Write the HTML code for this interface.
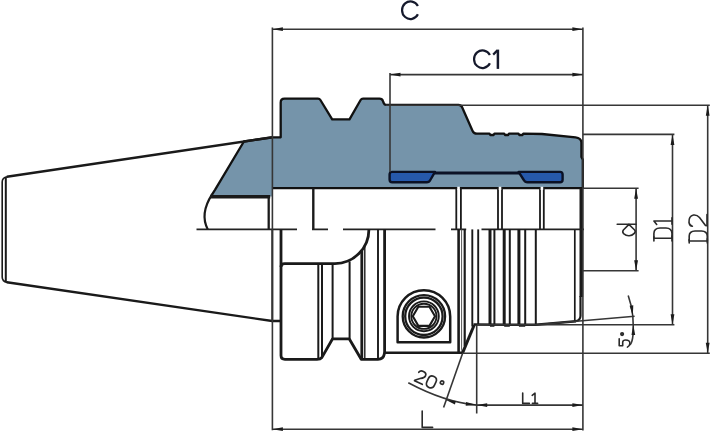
<!DOCTYPE html>
<html><head><meta charset="utf-8">
<style>
html,body{margin:0;padding:0;background:#fff;}
body{width:711px;height:432px;overflow:hidden;font-family:"Liberation Sans",sans-serif;}
svg{display:block}
</style></head><body>
<svg width="711" height="432" viewBox="0 0 711 432">
<rect width="711" height="432" fill="#fff"/>
<g fill="none" stroke="#1a1a1a" stroke-linecap="butt" stroke-linejoin="round">

<!-- ===== gray sectioned body ===== -->
<path fill="#7594aa" stroke="none" d="M243.9,141.5 L272.3,137.3 L280.7,137.3 L280.7,102.5 Q280.7,98.7 284.5,98.7
L318,98.7 Q319.6,98.7 320.4,100 L332.2,119.4 L349.5,119.4 L360.6,100 Q361.4,98.7 363,98.7
L379.5,98.7 Q382.2,98.7 383,101.2 L383.8,103.2 Q384.4,104.8 386.2,104.8
L458.5,104.8 Q461,104.8 462,107 L472.6,131 Q473.8,133.7 476.8,133.7
L489.5,133.7 L490.3,135 L493.6,135 L494.4,133.7
L504.2,133.7 L505,135 L508.2,135 L509,133.7
L518.5,133.7 L519.3,135 L522.5,135 L523.3,133.7
L542,134 L575.5,137.3 Q581.2,137.9 581.4,142.5
L581.4,157 L582.8,159.6 L582.8,188.2
L272.4,188.2 L272.4,196.4 L211,196.4 Q212.6,193.4 215,189.8 Z"/>
<path fill="none" stroke="#111" stroke-width="2.3" d="M211.4,195.8 Q212.6,193.4 215,189.8 L243.9,141.5 L272.3,137.3 L280.7,137.3 L280.7,102.5 Q280.7,98.7 284.5,98.7
L318,98.7 Q319.6,98.7 320.4,100 L332.2,119.4 L349.5,119.4 L360.6,100 Q361.4,98.7 363,98.7
L379.5,98.7 Q382.2,98.7 383,101.2 L383.8,103.2 Q384.4,104.8 386.2,104.8
L458.5,104.8 Q461,104.8 462,107 L472.6,131 Q473.8,133.7 476.8,133.7
L489.5,133.7 L490.3,135 L493.6,135 L494.4,133.7
L504.2,133.7 L505,135 L508.2,135 L509,133.7
L518.5,133.7 L519.3,135 L522.5,135 L523.3,133.7
L542,134 L575.5,137.3 Q581.2,137.9 581.4,142.5
L581.4,157 L582.8,159.6 L582.8,188.2
L272.4,188.2"/>

<!-- blue inserts -->
<path d="M434.5,173 L519.5,173" stroke="#0c1226" stroke-width="3"/>
<path fill="#2659ab" stroke="#0b1124" stroke-width="2.4" d="M392.2,171.9 L435,171.9 L430.3,180 Q429.2,182.3 426.8,182.3 L392.2,182.3 Q389.6,182.3 389.6,179.6 L389.6,174.5 Q389.6,171.9 392.2,171.9 Z"/>
<path fill="#2659ab" stroke="#0b1124" stroke-width="2.4" d="M518.6,171.9 L560,171.9 Q562.6,171.9 562.6,174.5 L562.6,179.7 Q562.6,182.3 560,182.3 L527.5,182.3 Q525,182.3 523.8,180 Z"/>

<!-- ===== taper shank ===== -->
<path stroke-width="2.4" d="M272.3,137.3 L6.8,176.8"/><path stroke-width="2.4" d="M6.8,282.3 L272.2,321 L281,321"/><path stroke-width="1.6" d="M7.2,176.7 Q2.2,177.4 2.2,182 L2.2,277 Q2.2,281.6 7.2,282.4"/>
<path stroke-width="2" d="M5.8,176.9 L5.8,282.2"/>

<path stroke-width="1.9" stroke="#222" d="M272.3,229.4 L272.3,321"/>
<!-- left curve under gray -->
<path stroke-width="2.2" d="M212.2,194.2 Q199.5,214 207.8,229.4"/>
<path stroke-width="3.6" d="M210.3,196.8 L270.2,196.8"/>
<path stroke-width="2.3" d="M268.7,196.5 L268.7,229.4"/>
<path stroke-width="2.4" d="M313.3,188.2 L313.3,229.6"/>

<!-- bore vertical pairs (above centerline) -->
<g stroke-width="1.8">
<path d="M456.3,229.4 L456.3,187.5 M460.9,229.4 L460.9,187.5"/>
<path d="M498,229.4 L498,187.5 M502,229.4 L502,187.5"/>
<path d="M540,229.4 L540,187.5 M543.8,229.4 L543.8,187.5"/>
</g>
<g stroke="#fff" stroke-width="2.6"><path d="M458.55,190 L458.55,186.8 M500,190 L500,186.8 M541.9,190 L541.9,186.8"/></g>

<!-- right edge thick -->
<path stroke-width="3.6" d="M581.3,188 L581.3,297"/><path stroke-width="2.2" d="M580.5,296 L580.5,316 Q580.3,320.4 575.6,321.2"/>
<path stroke-width="1.7" d="M574.8,229.4 L574.8,321.3"/>

<!-- center line -->
<path stroke-width="1.8" stroke="#222" d="M196.5,229.4 L297,229.4 M312,229.4 L328,229.4 M343,229.4 L435.5,229.4 M451,229.4 L466.2,229.4 M481.5,229.4 L584,229.4"/>

<!-- ===== lower body ===== -->
<!-- flange lower -->
<path stroke-width="2.8" d="M281,229.4 L281,355.5 Q281,359.3 285,359.3 L317,359.3 Q320.5,359.3 321.8,357.6 L332.6,338.8 L349.2,338.8 L361.2,359.3 L378,359.3 Q383.5,359.3 384.3,354 L384.4,352.7"/>
<path stroke-width="2.8" d="M281,267 Q281,263.6 284.6,263.6 L334.9,263.6 A34,34.2 0 0 0 368.9,229.4"/>
<path stroke-width="2" d="M318.3,263.6 L318.3,359"/>
<path stroke-width="2" d="M322,263.6 L322,357"/>
<path stroke-width="2" d="M332.6,263.6 L332.6,338.8 M349.6,261.5 L349.6,338.8"/>
<path stroke-width="2.8" d="M361.8,250 L361.8,359"/>
<path stroke-width="1.4" d="M364.8,246 L364.8,359"/>
<path stroke-width="1.9" d="M378,229.4 L378,359"/>
<path stroke-width="2.8" d="M384.6,229.4 L384.6,353"/>

<!-- body bottom -->
<path stroke-width="2.5" d="M384.4,352.8 L463.2,352.8"/>
<path stroke-width="2.6" d="M458.6,229.4 L458.6,352.8"/>
<path stroke-width="2.2" d="M464.7,229.4 L464.7,346"/>
<path stroke-width="1" stroke="#555" d="M461.6,229.4 L461.6,349 Q461.8,351.5 463,352.4"/>
<path stroke-width="3" d="M462.6,352.8 L474.2,325 "/>
<path stroke-width="2.5" d="M473.5,324.6 L536,324.7 L576,321.3"/>

<!-- ribs -->
<path stroke-width="1.9" d="M472.3,229.4 L472.3,326.5"/>
<path stroke-width="1.9" d="M478.2,229.4 L478.2,324.6"/>
<path stroke-width="3" d="M490,229.4 L490,325.6"/>
<path stroke-width="2" d="M494.4,229.4 L494.4,325.6"/>
<path stroke-width="3" d="M504.2,229.4 L504.2,325.6"/>
<path stroke-width="2" d="M509.8,229.4 L509.8,325.6"/>
<path stroke-width="3" d="M518.9,229.4 L518.9,325.6"/>
<path stroke-width="2" d="M525.2,229.4 L525.2,325.6"/>
<path stroke-width="2" d="M535.8,229.4 L535.8,324.6"/>
<path stroke-width="2" d="M490,325.8 L494.4,325.8 M504.2,325.8 L509.8,325.8 M518.9,325.8 L525.2,325.8"/>

<!-- screw -->
<path stroke-width="2.5" d="M397.6,342.3 L397.6,316.4 A26.3,26.3 0 0 1 450.2,316.4 L450.2,342.3 Z"/>
<circle cx="423.9" cy="316.3" r="21.2" stroke-width="2.3"/>
<circle cx="423.9" cy="316.3" r="18.7" stroke-width="2.3"/>
<circle cx="423.9" cy="316.3" r="14.9" stroke-width="1.9"/>
<circle cx="423.9" cy="316.3" r="12.6" stroke-width="1.9"/>
<path stroke-width="2.1" d="M412.8,316.3 L418.35,306.7 L429.45,306.7 L435,316.3 L429.45,325.9 L418.35,325.9 Z"/>
</g>

<!-- ===== dimension lines ===== -->
<g fill="none" stroke="#363636" stroke-width="1.6">
<!-- C ext lines -->
<path d="M272.4,27.6 L272.4,430.3"/>
<path d="M582.9,27.6 L582.9,430.6"/>
<!-- C dim -->
<path d="M272.4,29.2 L582.9,29.2"/>
<!-- C1 -->
<path d="M390,73 L390,172"/>
<path d="M390,74.6 L582.9,74.6"/>
<!-- L -->
<path d="M272.4,429.2 L582.9,429.2"/>
<!-- L1 -->
<path d="M476.7,325 L476.7,413.5"/>
<path d="M476.7,405.1 L582.9,405.1"/>
<!-- D2 -->
<path d="M386,105.3 L709.8,105.3"/>
<path d="M463,353.2 L709.8,353.2"/>
<path d="M707.7,105.3 L707.7,353.2"/>
<!-- D1 -->
<path d="M583,134.4 L674.4,134.4"/>
<path d="M476.7,324.7 L674.4,324.7"/>
<path d="M672.5,134.4 L672.5,324.7"/>
<!-- d -->
<path d="M583,188.2 L638.6,188.2"/>
<path d="M583,270.8 L638.6,270.8"/>
<path d="M636.1,188.2 L636.1,270.8"/>
<!-- 5deg -->
<path d="M536,324.8 L634.6,316.2"/>
<path d="M628.2,295.5 Q631.6,305 632.8,316 L633.2,324.7"/>
<path d="M633.2,324.7 Q633.6,336 631.8,341.5 Q631,344 629.9,345"/>
<!-- 20deg -->
<path d="M462.8,352.8 L443.6,407.4"/>
<path d="M408.3,382.8 Q445,402.4 476.7,405.1"/>
</g>

<!-- arrows -->
<g fill="#1c1c1c" stroke="none">
<path d="M272.4,29.2 l10.5,-1.9 l0,3.8 z"/>
<path d="M582.9,29.2 l-10.5,-1.9 l0,3.8 z"/>
<path d="M390,74.6 l10.5,-1.9 l0,3.8 z"/>
<path d="M582.9,74.6 l-10.5,-1.9 l0,3.8 z"/>
<path d="M272.4,429.2 l10.5,-1.9 l0,3.8 z"/>
<path d="M582.9,429.2 l-10.5,-1.9 l0,3.8 z"/>
<path d="M476.7,405.1 l10.5,-1.9 l0,3.8 z"/>
<path d="M582.9,405.1 l-10.5,-1.9 l0,3.8 z"/>
<path d="M707.7,105.3 l-1.9,10.5 l3.8,0 z"/>
<path d="M707.7,353.2 l-1.9,-10.5 l3.8,0 z"/>
<path d="M672.5,134.4 l-1.9,10.5 l3.8,0 z"/>
<path d="M672.5,324.7 l-1.9,-10.5 l3.8,0 z"/>
<path d="M636.1,188.2 l-1.9,10.5 l3.8,0 z"/>
<path d="M636.1,270.8 l-1.9,-10.5 l3.8,0 z"/>
<!-- 5deg arrows -->
<path d="M632.8,316 l-3.2,-10.3 l3.7,-0.5 z"/>
<path d="M633.2,324.7 l-1.7,10.3 l3.7,0 z"/>
<!-- 20deg arrows -->
<path d="M445.6,399.8 l10.3,1.2 l-1,3.5 z"/>
<path d="M476.7,405.1 l-10.6,-3 l-0.4,3.7 z"/>
</g>

<!-- ===== text ===== -->
<g fill="none" stroke="#15192c" stroke-width="2.2" stroke-linecap="butt" stroke-linejoin="miter">
<path d="M417.9,6.1 A8.4,8.8 0 1 0 417.9,14.3"/>
<path d="M489.9,55.1 A8.4,8.8 0 1 0 489.9,63.3"/>
<path d="M493.2,54.6 L497.4,50.4"/>
<path stroke-width="2.5" d="M497.9,49.6 L497.9,68.9"/>
</g>
<!-- CAD-font text drawn as strokes -->
<g fill="none" stroke="#2a2a2a" stroke-width="1.6" stroke-linecap="round" stroke-linejoin="round">
<!-- L -->
<path d="M422.2,411 L422.2,427.4 L432.6,427.4"/>
<!-- L1 -->
<path d="M522.7,393 L522.7,403.4 L529.4,403.4"/>
<path d="M532.2,395.3 L535,393.2 L535,403.4 M532.4,403.4 L537.6,403.4"/>
<!-- d -->
<path d="M617.2,224.3 L636,224.3"/>
<path d="M628.9,224.4 L623.4,230 Q622,232 623.6,233.6 Q626.2,236 629.2,235.8 Q632,235.8 634.3,233.4 Q636,231.6 634.6,230 Z"/>
<!-- D1 -->
<path d="M653.9,238.2 L672,238.2 M653.9,236.8 L653.9,241 M672,236 L672,241"/>
<path d="M653.9,238.2 L653.9,233.4 Q654,228.2 660,228 L666,228 Q671.8,228.2 672,233.4 L672,238.2"/>
<path d="M653.9,221 L672,221 M653.9,221 L656.7,224.4 M672,217.8 L672,224.2"/>
<!-- D2 -->
<path d="M689.2,241 L707.3,241 M689.2,239.6 L689.2,243 M707.3,238.8 L707.3,243"/>
<path d="M689.2,241 L689.2,236 Q689.3,231.2 695,231 L701.5,231 Q707.1,231.2 707.3,236 L707.3,241"/>
<path d="M692.4,226.2 Q689.6,226 689,222.5 Q688.6,216 693.5,215 Q697,214.6 699.5,217.5 L705.5,225.4 L707,225.8 L707,214.6"/>
<!-- 5deg -->
<path d="M619.2,338.7 L619.2,345.8 L622.7,345.8 L622.7,342 Q623,340 625.6,340 Q629.8,340 629.9,343.2 Q629.8,345.8 627.4,347.1"/>
<circle cx="622.1" cy="334.1" r="1.3" fill="#555"/>
<!-- 20deg -->
<g transform="translate(414.3,380.6) rotate(25) scale(1.1)" stroke-width="1.5">
<path d="M0.5,-8.5 Q1,-11 4,-11 Q7.4,-11 7.4,-8.2 Q7.4,-6 4.5,-4.4 L0.2,-0.4 L0.2,0 L8,0"/>
<path d="M14.6,-11 Q18.4,-11 18.4,-7 L18.4,-4 Q18.4,0 14.6,0 Q10.8,0 10.8,-4 L10.8,-7 Q10.8,-11 14.6,-11 Z"/>
<circle cx="23.6" cy="-9" r="1.5"/>
</g>
</g>
</svg>
</body></html>
